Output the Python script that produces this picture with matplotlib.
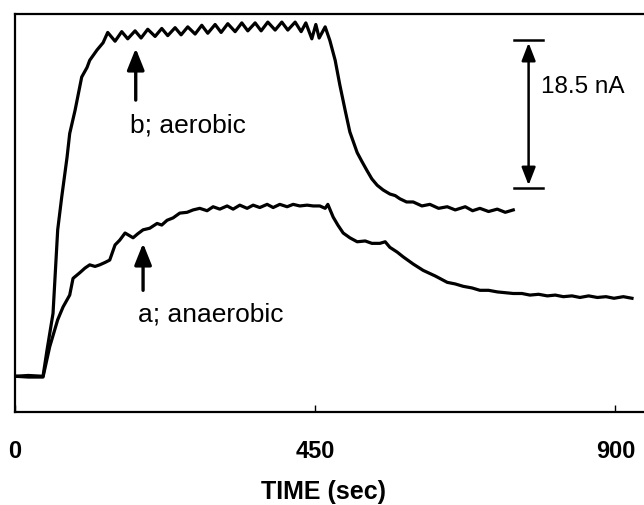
import matplotlib
matplotlib.use("Agg")
import matplotlib.pyplot as plt

# ---- data (time in s, current in nA) ----
b_t = [0, 20, 42, 48, 57, 64, 70, 78, 82, 90, 100, 108, 112, 123, 132,
       139, 150, 160, 169, 180, 189, 199, 210, 220, 229, 240, 249, 259, 270,
       280, 289, 300, 309, 319, 330, 340, 349, 360, 369, 379, 390, 400, 409,
       420, 429, 436, 445, 451, 456, 465, 472, 480, 487, 495, 502, 513, 520,
       528, 535, 543, 552, 562, 570, 577, 587, 597, 610, 622, 635, 648, 660,
       675, 686, 697, 710, 723, 735, 747]
b_y = [4.5, 4.6, 4.5, 7.8, 12.4, 22.9, 27.0, 32.0, 35.0, 37.9, 42.1, 43.3, 44.2, 45.5, 46.4,
       47.7, 46.6, 47.8, 46.9, 47.9, 47.0, 48.1, 47.2, 48.2, 47.3, 48.3, 47.4, 48.4, 47.5,
       48.6, 47.6, 48.7, 47.7, 48.8, 47.8, 48.9, 47.9, 48.9, 47.9, 49.0, 48.0, 49.0, 48.0,
       49.0, 47.8, 48.9, 46.9, 48.7, 47.0, 48.4, 46.7, 44.2, 41.1, 37.9, 35.2, 32.6, 31.5,
       30.3, 29.3, 28.5, 27.9, 27.4, 27.2, 26.8, 26.4, 26.4, 25.9, 26.1, 25.6, 25.8, 25.4,
       25.8, 25.3, 25.6, 25.2, 25.5, 25.1, 25.4]

a_t = [0, 20, 42, 52, 64, 72, 82, 87, 97, 105, 112, 120, 127, 135, 142,
       150, 157, 165, 177, 184, 192, 202, 213, 220, 228, 237, 247, 258, 267,
       277, 288, 297, 307, 318, 327, 337, 348, 357, 367, 378, 387, 397, 408,
       417, 427, 438, 447, 457, 465, 469, 477, 484, 492, 502, 513, 525, 535,
       547, 555, 562, 573, 582, 597, 612, 630, 648, 660, 672, 685, 697, 710,
       723, 735, 747, 760, 772, 785, 798, 810, 822, 835, 847, 860, 873, 886,
       898, 912, 925]
a_y = [4.5, 4.4, 4.4, 8.2, 11.6, 13.2, 14.7, 16.8, 17.5, 18.1, 18.5, 18.3, 18.5, 18.8, 19.1,
       21.0, 21.6, 22.5, 21.9, 22.4, 22.9, 23.1, 23.7, 23.5, 24.1, 24.4, 25.0, 25.1, 25.4,
       25.6, 25.3, 25.8, 25.5, 25.9, 25.5, 26.0, 25.6, 26.0, 25.7, 26.1, 25.7, 26.1, 25.8,
       26.1, 25.9, 26.0, 25.9, 25.9, 25.6, 26.1, 24.5, 23.5, 22.5, 21.9, 21.4, 21.5, 21.2,
       21.2, 21.4, 20.7, 20.1, 19.5, 18.6, 17.8, 17.1, 16.3, 16.1, 15.8, 15.6, 15.3, 15.3,
       15.1, 15.0, 14.9, 14.9, 14.7, 14.8, 14.6, 14.7, 14.5, 14.6, 14.4, 14.6, 14.4, 14.5,
       14.3, 14.5, 14.3]

x_ticks = [0, 450, 900]
x_label = "TIME (sec)"
label_b = "b; aerobic"
label_a = "a; anaerobic"
scale_text = "18.5 nA"
scale_top, scale_bottom = 46.7, 28.2
scale_t = 770

plt.rcParams["font.family"] = ["Liberation Sans", "DejaVu Sans"]

fig = plt.figure(figsize=(6.44, 5.05), dpi=100)
ax = fig.add_axes([0.0233, 0.184, 0.9767, 0.788])

ax.plot(b_t, b_y, color="black", lw=2.3, solid_joinstyle="round")
ax.plot(a_t, a_y, color="black", lw=2.3, solid_joinstyle="round")

ax.set_xlim(0, 943)
ax.set_ylim(0, 50)

ax.set_xticks(x_ticks)
ax.set_xticklabels([str(v) for v in x_ticks], fontsize=17, fontweight="bold")
ax.tick_params(axis="x", direction="in", length=5, width=1, pad=20)
ax.set_yticks([])
ax.set_xlabel(x_label, fontsize=18, fontweight="bold", labelpad=12)
ax.xaxis.set_label_coords(0.49, -0.17)

for s in ["left", "bottom", "top"]:
    ax.spines[s].set_linewidth(1.6)
ax.spines["right"].set_visible(False)

arrow_kw = dict(arrowstyle="-|>,head_length=1.0,head_width=0.4", color="black", lw=2.4,
                shrinkA=0, shrinkB=0, mutation_scale=13)
# b arrow and text
ax.annotate("", xy=(181, 45.7), xytext=(181, 39.2), arrowprops=arrow_kw)
ax.text(172, 36.0, label_b, fontsize=19, ha="left", va="center")
# a arrow and text
ax.annotate("", xy=(192, 21.2), xytext=(192, 15.3), arrowprops=arrow_kw)
ax.text(184, 12.3, label_a, fontsize=19, ha="left", va="center")

# scale bar
ax.plot([scale_t - 22, scale_t + 22], [scale_top, scale_top], color="black", lw=1.8)
ax.plot([scale_t - 22, scale_t + 22], [scale_bottom, scale_bottom], color="black", lw=1.8)
ax.annotate("", xy=(scale_t, scale_top - 0.3), xytext=(scale_t, scale_bottom + 0.3),
            arrowprops=dict(arrowstyle="<|-|>,head_length=0.9,head_width=0.35",
                            color="black", lw=1.8, shrinkA=0, shrinkB=0, mutation_scale=12))
ax.text(scale_t + 18, 40.8, scale_text, fontsize=17.5, ha="left", va="center")

fig.savefig("out.png", dpi=100)
